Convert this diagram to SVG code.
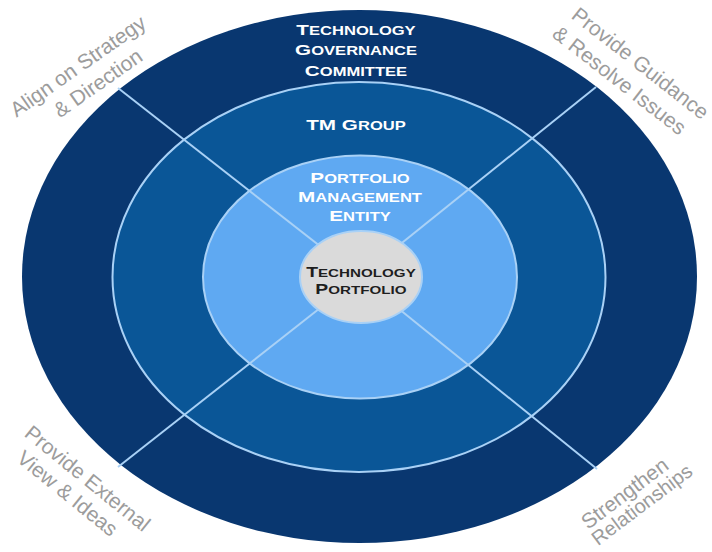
<svg xmlns="http://www.w3.org/2000/svg" width="712" height="552" viewBox="0 0 712 552">
<defs>
<style>
.ring{stroke:#a9d1f6;stroke-width:2}
.conn{stroke:#a9d1f6;stroke-width:2;fill:none}
.t{font-family:"Liberation Sans",Arial,sans-serif;font-weight:bold;text-anchor:middle;fill:#ffffff}
.big{font-size:15px}
.sm{font-size:12px}
.dark{fill:#1e1e1e}
.lbl{font-family:"Liberation Sans",Arial,sans-serif;font-size:21px;fill:#9c9c9c;text-anchor:middle}
</style>
</defs>
<rect width="712" height="552" fill="#ffffff"/>
<g id="gov">
<ellipse cx="359.5" cy="276.5" rx="337.5" ry="266.5" fill="#093770"/>
<g transform="translate(356,0) scale(1.38,1)">
<text class="t" x="0" y="35"><tspan class="big">T</tspan><tspan class="sm">ECHNOLOGY</tspan></text>
<text class="t" x="0" y="55.5"><tspan class="big">G</tspan><tspan class="sm">OVERNANCE</tspan></text>
<text class="t" x="0" y="76"><tspan class="big">C</tspan><tspan class="sm">OMMITTEE</tspan></text>
</g>
</g>
<g id="tm">
<ellipse class="ring" cx="359" cy="277" rx="246.5" ry="195" fill="#0a5697"/>
<g transform="translate(356,0) scale(1.38,1)">
<text class="t" x="0" y="130"><tspan class="big">TM G</tspan><tspan class="sm">ROUP</tspan></text>
</g>
</g>
<g id="pme">
<ellipse class="ring" cx="360" cy="277" rx="157" ry="121.5" fill="#5fa9f2"/>
<g transform="translate(360,0) scale(1.38,1)">
<text class="t" x="0" y="183"><tspan class="big">P</tspan><tspan class="sm">ORTFOLIO</tspan></text>
<text class="t" x="0" y="202"><tspan class="big">M</tspan><tspan class="sm">ANAGEMENT</tspan></text>
<text class="t" x="0" y="221"><tspan class="big">E</tspan><tspan class="sm">NTITY</tspan></text>
</g>
</g>
<g id="connectors">
<line class="conn" x1="118" y1="88" x2="359.5" y2="277"/>
<line class="conn" x1="596" y1="87" x2="359.5" y2="277"/>
<line class="conn" x1="118" y1="467" x2="359.5" y2="277"/>
<line class="conn" x1="597" y1="469" x2="359.5" y2="277"/>
</g>
<g id="portfolio">
<ellipse class="ring" cx="361" cy="277" rx="61" ry="46" fill="#dadada"/>
<g transform="translate(361,0) scale(1.38,1)">
<text class="t dark" x="0" y="277"><tspan style="font-size:14px">T</tspan><tspan style="font-size:11px">ECHNOLOGY</tspan></text>
<text class="t dark" x="0" y="294"><tspan style="font-size:14px">P</tspan><tspan style="font-size:11px">ORTFOLIO</tspan></text>
</g>
</g>
<g id="labels">
<text class="lbl" transform="translate(82,72) rotate(-35)">Align on Strategy</text>
<text class="lbl" transform="translate(102,89) rotate(-35)">&amp; Direction</text>
<text class="lbl" transform="translate(636,69) rotate(38)">Provide Guidance</text>
<text class="lbl" transform="translate(615,86) rotate(38)">&amp; Resolve Issues</text>
<text class="lbl" transform="translate(83,484) rotate(39)">Provide External</text>
<text class="lbl" transform="translate(63,499) rotate(39)">View &amp; Ideas</text>
<text class="lbl" transform="translate(629,499) rotate(-37)">Strengthen</text>
<text class="lbl" style="font-size:20px" transform="translate(646,510) rotate(-37)">Relationships</text>
</g>
</svg>
